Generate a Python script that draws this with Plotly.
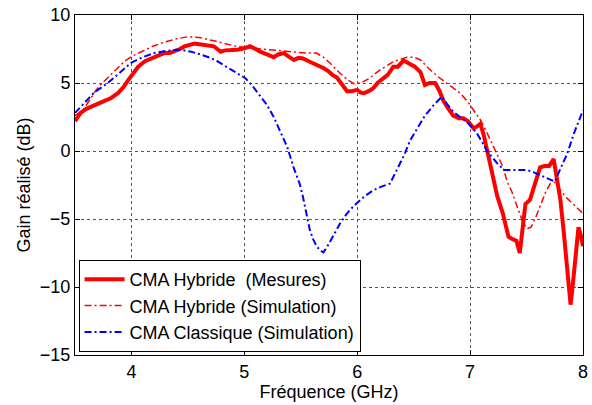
import plotly.graph_objects as go

# Measured hybrid CMA (thick red)
f_mes = [3.50, 3.55, 3.60, 3.67, 3.75, 3.82, 3.88, 3.93, 3.97, 4.02, 4.06, 4.12, 4.17, 4.23, 4.29,
         4.34, 4.38, 4.43, 4.47, 4.52, 4.56, 4.60, 4.65, 4.70, 4.73, 4.76, 4.79, 4.83, 4.88, 4.94,
         5.00, 5.05, 5.10, 5.14, 5.20, 5.26, 5.30, 5.35, 5.40, 5.44, 5.48, 5.52, 5.57, 5.61, 5.66,
         5.70, 5.74, 5.78, 5.82, 5.85, 5.88, 5.91, 5.95, 6.00, 6.03, 6.06, 6.10, 6.14, 6.18, 6.23,
         6.27, 6.32, 6.36, 6.41, 6.44, 6.47, 6.51, 6.56, 6.60, 6.64, 6.69, 6.73, 6.76, 6.80, 6.85,
         6.90, 6.94, 6.98, 7.03, 7.06, 7.09, 7.12, 7.16, 7.20, 7.24, 7.29, 7.34, 7.38, 7.41, 7.44,
         7.47, 7.49, 7.53, 7.57, 7.62, 7.66, 7.70, 7.74, 7.77, 7.80, 7.83, 7.86, 7.89, 7.91, 7.93,
         7.96, 7.98, 8.00]
g_mes = [2.2, 2.8, 3.1, 3.35, 3.6, 3.9, 4.25, 4.7, 5.2, 5.8, 6.2, 6.6, 6.8, 7.0, 7.2,
         7.2, 7.3, 7.5, 7.7, 7.85, 7.9, 7.85, 7.8, 7.7, 7.7, 7.5, 7.3, 7.4, 7.4, 7.45,
         7.55, 7.7, 7.5, 7.3, 7.1, 6.9, 7.1, 7.2, 6.9, 6.7, 6.85, 6.8, 6.6, 6.45, 6.3,
         6.1, 5.9, 5.6, 5.4, 5.1, 4.7, 4.4, 4.4, 4.5, 4.3, 4.25, 4.4, 4.6, 5.0, 5.3,
         5.6, 6.2, 6.2, 6.65, 6.5, 6.4, 6.2, 5.8, 4.85, 5.0, 5.0, 4.4, 3.75, 3.2, 2.6,
         2.4, 2.4, 2.2, 1.67, 1.8, 2.0, 1.2, -0.2, -1.8, -3.3, -4.6, -6.3, -6.5, -6.6, -7.5,
         -5.5, -3.9, -3.6, -2.6, -1.2, -1.1, -1.1, -0.6, -2.0, -3.6, -6.0, -8.5, -11.3, -9.8, -8.0,
         -5.6, -6.2, -7.0]

# Hybrid CMA simulation (thin red dash-dot)
f_hyb = [3.50, 3.57, 3.63, 3.68, 3.73, 3.79, 3.85, 3.94, 4.00, 4.09, 4.19, 4.29, 4.40, 4.50, 4.60,
         4.73, 4.85, 4.94, 5.02, 5.15, 5.30, 5.44, 5.55, 5.64, 5.70, 5.76, 5.85, 5.92, 5.97, 6.03,
         6.10, 6.20, 6.32, 6.44, 6.50, 6.56, 6.63, 6.71, 6.78, 6.85, 6.92, 6.98, 7.04, 7.09, 7.14,
         7.18, 7.24, 7.29, 7.33, 7.37, 7.40, 7.44, 7.47, 7.51, 7.54, 7.58, 7.62, 7.67, 7.71, 7.75,
         7.80, 7.85, 7.90, 7.95, 8.00]
g_hyb = [2.6, 3.0, 3.75, 4.4, 4.9, 5.4, 5.9, 6.6, 6.95, 7.3, 7.7, 8.0, 8.25, 8.4, 8.35,
         8.1, 7.85, 7.67, 7.6, 7.5, 7.4, 7.3, 7.2, 7.2, 6.9, 6.45, 5.7, 5.2, 4.95, 5.0,
         5.3, 5.95, 6.57, 6.9, 6.9, 6.7, 6.1, 5.5, 5.05, 4.6, 4.2, 3.6, 2.9, 2.3, 1.5,
         0.8, -0.2, -1.15, -2.3, -3.0, -3.7, -4.6, -5.3, -5.7, -5.6, -4.9, -4.0, -3.0, -2.4, -2.3,
         -2.9, -3.4, -3.8, -4.2, -4.6]

# Classic CMA simulation (blue dash-dot)
f_cla = [3.50, 3.57, 3.67, 3.79, 3.90, 4.00, 4.10, 4.20, 4.30, 4.40, 4.46, 4.53, 4.61, 4.70, 4.76,
         4.84, 4.91, 4.97, 5.01, 5.07, 5.14, 5.20, 5.26, 5.32, 5.38, 5.44, 5.49, 5.52, 5.55, 5.58,
         5.61, 5.64, 5.67, 5.70, 5.73, 5.77, 5.81, 5.85, 5.90, 5.94, 6.00, 6.07, 6.14, 6.22, 6.29,
         6.35, 6.41, 6.47, 6.54, 6.60, 6.68, 6.75, 6.80, 6.85, 6.91, 6.97, 7.02, 7.06, 7.11, 7.15,
         7.20, 7.24, 7.30, 7.40, 7.50, 7.56, 7.62, 7.69, 7.75, 7.80, 7.86, 7.92, 8.00]
g_cla = [2.8, 3.4, 4.3, 5.0, 5.8, 6.5, 6.9, 7.2, 7.35, 7.45, 7.4, 7.3, 7.1, 6.85, 6.6,
         6.2, 5.9, 5.6, 5.35, 4.8, 4.0, 3.4, 2.5, 1.4, 0.3, -1.3, -2.4, -3.4, -4.5, -5.8,
         -6.5, -7.0, -7.3, -7.45, -7.1, -6.5, -5.9, -5.3, -4.7, -4.3, -3.8, -3.3, -2.9, -2.6, -2.4,
         -1.4, -0.4, 0.8, 1.8, 2.6, 3.4, 4.0, 3.4, 2.9, 2.5, 2.15, 1.7, 1.3, 0.6, 0.0,
         -0.5, -0.9, -1.4, -1.4, -1.4, -1.55, -1.76, -2.0, -2.25, -1.3, -0.2, 1.3, 3.0]

x_ticks = [4, 5, 6, 7, 8]
y_ticks = [-15, -10, -5, 0, 5, 10]

names = ["CMA Hybride\u00a0 (Mesures)", "CMA Hybride (Simulation)", "CMA Classique (Simulation)"]

FONT = "Liberation Sans, Arial, sans-serif"
FS = 18

fig = go.Figure()
fig.add_trace(go.Scatter(x=f_mes, y=g_mes, mode="lines", name=names[0],
                         line=dict(color="#ff0000", width=4)))
fig.add_trace(go.Scatter(x=f_hyb, y=g_hyb, mode="lines", name=names[1],
                         line=dict(color="#ff0000", width=1.5, dash="7px,3px,2px,3px")))
fig.add_trace(go.Scatter(x=f_cla, y=g_cla, mode="lines", name=names[2],
                         line=dict(color="#0000ff", width=2, dash="7px,3px,2px,3px")))

axis_common = dict(showline=True, linecolor="black", linewidth=1, mirror="ticks",
                   ticks="inside", ticklen=5, tickcolor="black", automargin=False,
                   showgrid=True, gridcolor="#555555", griddash="dot", gridwidth=1,
                   zeroline=False, tickfont=dict(family=FONT, size=FS, color="black"))

fig.update_xaxes(range=[3.5, 8], tickvals=x_ticks,
                 title=dict(text="Fréquence (GHz)", font=dict(family=FONT, size=FS, color="black"), standoff=4),
                 **axis_common)
fig.update_yaxes(range=[-15, 10], tickvals=y_ticks,
                 title=dict(text="Gain réalisé (dB)", font=dict(family=FONT, size=FS, color="black"), standoff=4),
                 **axis_common)

fig.update_layout(
    width=592, height=405,
    margin=dict(l=75, r=9, t=15, b=50),
    paper_bgcolor="white", plot_bgcolor="white",
    font=dict(family=FONT, size=FS, color="black"),
    legend=dict(x=0.007, y=0.009, xanchor="left", yanchor="bottom",
                bgcolor="white", bordercolor="black", borderwidth=1,
                font=dict(family=FONT, size=18, color="black"),
                tracegroupgap=0, itemwidth=40),
    showlegend=True,
)

fig.write_html("out.html")
